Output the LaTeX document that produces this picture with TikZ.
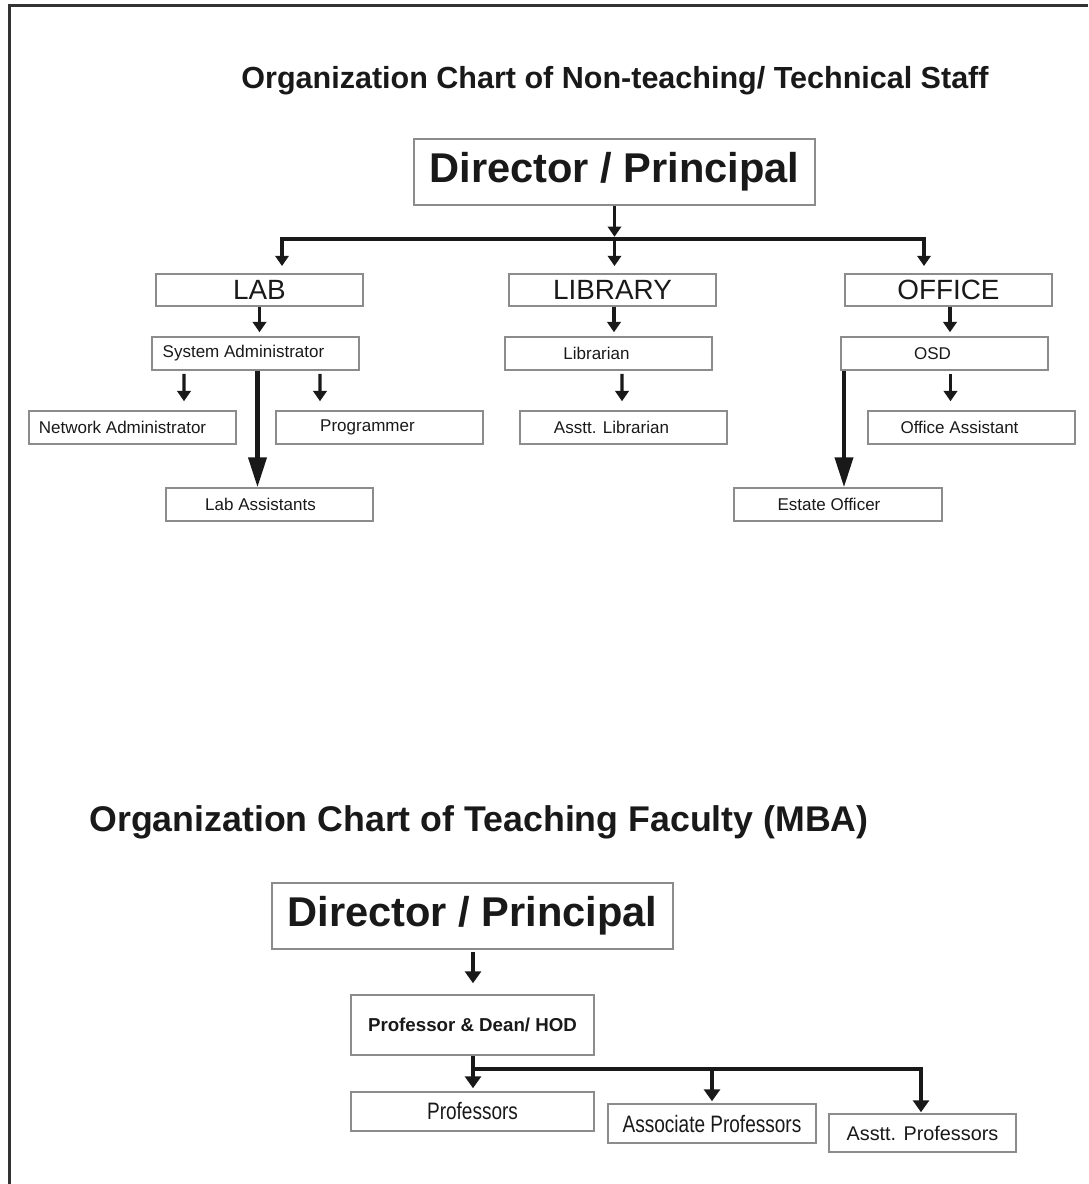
\documentclass[tikz,border=0pt]{standalone}
\usepackage{fontspec}
\setmainfont{Liberation Sans}
\newfontfamily\narrowfont[FakeStretch=0.8]{Liberation Sans}
\usetikzlibrary{arrows.meta,calc}

\begin{document}
\begin{tikzpicture}[x=0.025cm,y=-0.025cm,
  every node/.style={text=black!90,inner sep=0pt},
  box/.style={draw=black!45,line width=1.1pt},
  dirbox/.style={box,minimum width=10.025cm,minimum height=1.65cm,font=\fontsize{29.6pt}{31pt}\selectfont\bfseries},
  unitbox/.style={box,minimum width=5.175cm,minimum height=0.81cm,font=\fontsize{19.8pt}{21pt}\selectfont},
  postbox/.style={box,minimum width=5.175cm,minimum height=0.825cm},
  posttext/.style={font=\fontsize{12.1pt}{13pt}\selectfont,text=black!90},
  chartitle/.style={anchor=base,font=\fontsize{21.7pt}{23pt}\selectfont\bfseries},
  arr/.style={-{Triangle[width=9.5pt,length=7.3pt]},line width=2.4pt,black!90},
  bigarr/.style={-{Triangle[width=12.8pt,length=21.3pt]},line width=2.85pt,black!90},
  arrB/.style={-{Triangle[width=11.4pt,length=8.5pt]},line width=2.5pt,black!90},
  frame/.style={draw=black!80,line width=2pt}]
\useasboundingbox (0,0) rectangle (1088,1184);

\draw[frame] (9.5,1184) |- (1088,5.5);

% non-teaching / technical staff
\node[chartitle] (titleA) at (615,88) {Organization Chart of Non-teaching/ Technical Staff};

\node[dirbox] (dirA) at (614.5,172) {Director / Principal};

\node[unitbox] (lab) at (259.5,290) {LAB};
\node[unitbox] (library) at (612.5,290) {LIBRARY};
\node[unitbox] (office) at (948.5,290) {OFFICE};

\node[postbox,label={[posttext,xshift=-0.3cm]center:System Administrator}] (sysad) at (255.5,353.5) {};
\node[postbox,label={[posttext,xshift=-0.25cm]center:Network Administrator}] (netad) at (132.5,427.5) {};
\node[postbox,label={[posttext,xshift=-0.3cm]center:Programmer}] (prog) at (379.5,427.5) {};
\node[postbox,label={[posttext,xshift=-0.225cm]center:Lab Assistants}] (labas) at (269.5,504.5) {};

\node[postbox,label={[posttext,xshift=-0.3cm]center:Librarian}] (libr) at (608.5,353.5) {};
\node[postbox,label={[posttext,xshift=-0.3cm]center:Asstt. Librarian}] (alib) at (623.5,427.5) {};

\node[postbox,label={[posttext,xshift=-0.3cm]center:OSD}] (osd) at (944.5,353.5) {};
\node[postbox,label={[posttext,xshift=-0.3cm]center:Office Assistant}] (offas) at (971.5,427.5) {};
\node[postbox,minimum width=5.2cm,label={[posttext,xshift=-0.225cm]center:Estate Officer}] (estate) at (838,504.5) {};

\coordinate (hubA) at ($(dirA.south)+(0,33)$);
\draw[arr] (dirA.south) -- ($(dirA.south)+(0,31)$);
\draw[arr,line width=2.85pt] (hubA) -| ($(lab.north)+(22.5,-7)$);
\draw[arr,line width=2.85pt] (hubA) -| ($(office.north)+(-24.5,-7)$);
\draw[arr] (hubA) -- ($(library.north)+(2,-7)$);

\draw[arr] (lab.south) -- ($(sysad.north)+(4,-4)$);
\draw[arr] ($(library.south)+(1.5,0)$) -- ($(libr.north)+(5.5,-4)$);
\draw[arr] ($(office.south)+(1.5,0)$) -- ($(osd.north)+(5.5,-4)$);

\draw[arr] ($(sysad.south)+(-71.5,3)$) -- ($(netad.north)+(51.5,-9)$);
\draw[arr] ($(sysad.south)+(64.5,3)$) -- ($(prog.north)+(-59.5,-9)$);
\draw[bigarr] ($(sysad.south)+(2,0)$) -- ($(labas.north)+(-12,0)$);

\draw[arr] ($(libr.south)+(13.5,3)$) -- ($(alib.north)+(-1.5,-9)$);

\draw[arr] ($(osd.south)+(6,3)$) -- ($(offas.north)+(-21,-9)$);
\draw[bigarr] ($(osd.south)+(-100.5,0)$) -- ($(estate.north)+(6,0)$);

% teaching faculty
\node[chartitle,font=\fontsize{25.4pt}{27pt}\selectfont\bfseries] (titleB) at (479,831) {Organization Chart of Teaching Faculty (MBA)};

\node[dirbox] (dirB) at (472.5,916) {Director / Principal};
\node[box,minimum width=6.075cm,minimum height=1.5cm,font=\fontsize{13.3pt}{14pt}\selectfont\bfseries] (dean) at (472.5,1025) {Professor \& Dean/ HOD};

\node[box,minimum width=6.075cm,minimum height=0.975cm,font=\fontsize{16.9pt}{18pt}\narrowfont] (profs) at (472.5,1111.5) {Professors};
\node[box,minimum width=5.2cm,minimum height=0.975cm,font=\fontsize{16.9pt}{18pt}\narrowfont] (assoc) at (712,1123.5) {Associate Professors};
\node[box,minimum width=4.675cm,minimum height=0.95cm,font=\fontsize{14.1pt}{15pt}\selectfont] (asstt) at (922.5,1133) {Asstt. Professors};

\draw[arrB] ($(dirB.south)+(0.5,2)$) -- ($(dean.north)+(0.5,-11)$);

\coordinate (hubB) at ($(dean.south)+(0.5,13)$);
\draw[arrB] ($(dean.south)+(0.5,0)$) -- ($(profs.north)+(0.5,-3)$);
\draw[arrB] (hubB) -| ($(assoc.north)+(0,-2)$);
\draw[arrB] (hubB) -| ($(asstt.north)+(-1.5,-1)$);

\end{tikzpicture}
\end{document}
